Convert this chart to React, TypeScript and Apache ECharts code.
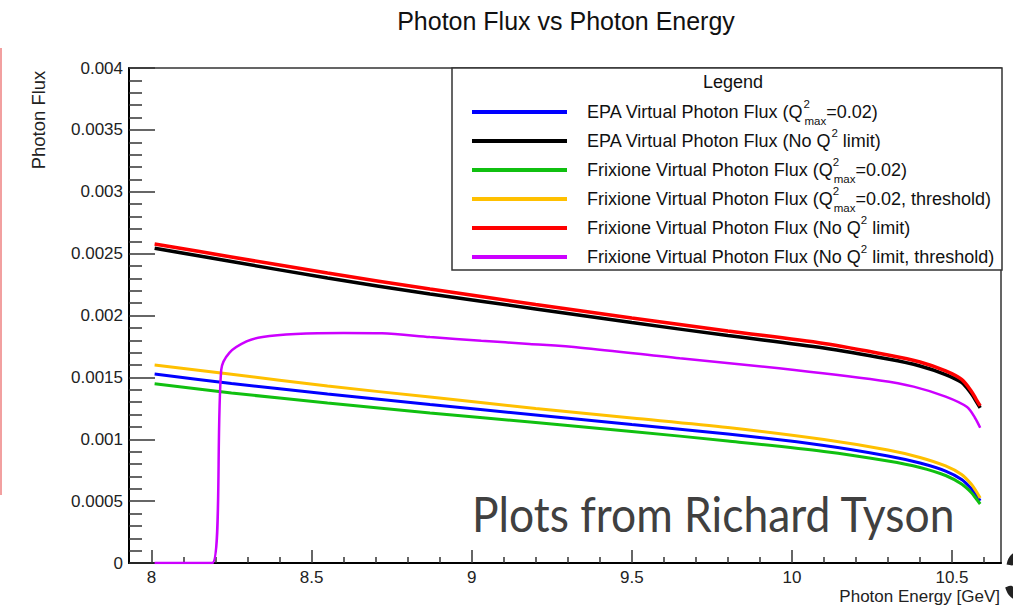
import React, { useEffect, useRef } from "react";
import * as echarts from "echarts";

const FONT = "'Liberation Sans', Arial, Helvetica, sans-serif";

// Photon energy samples (GeV)
const energies = [8.01, 8.25, 8.55, 8.87, 9.2, 9.5, 9.8, 10.1, 10.3, 10.4, 10.48, 10.53, 10.56, 10.575, 10.588];
const epaQ2max = [0.001527, 0.00145, 0.001366, 0.001281, 0.001196, 0.001119, 0.001042, 0.00095, 0.000865, 0.000808, 0.000743, 0.000675, 0.000602, 0.00055, 0.000503];
const epaNoLimit = [0.002543, 0.002436, 0.002303, 0.002174, 0.002053, 0.001943, 0.001838, 0.001737, 0.001648, 0.001592, 0.001523, 0.001459, 0.00137, 0.001309, 0.001253];
const frixQ2max = [0.001449, 0.001374, 0.001293, 0.001212, 0.001135, 0.001063, 0.000986, 0.000901, 0.000824, 0.000772, 0.000707, 0.000638, 0.00057, 0.000521, 0.000477];
const frixQ2maxThr = [0.0016, 0.001525, 0.00143, 0.001341, 0.001248, 0.001172, 0.001095, 0.000998, 0.000913, 0.000853, 0.000784, 0.000715, 0.000638, 0.000582, 0.000525];
const frixNoLimit = [0.002578, 0.002473, 0.002343, 0.002214, 0.002089, 0.00198, 0.001875, 0.001774, 0.001681, 0.001624, 0.001552, 0.001483, 0.00139, 0.001325, 0.001269];
// threshold curve has its own sampling
const thrEnergies = [8.01, 8.19, 8.218, 8.244, 8.297, 8.347, 8.45, 8.6, 8.72, 8.87, 9.03, 9.18, 9.34, 9.65, 9.96, 10.275, 10.38, 10.48, 10.547, 10.572, 10.588];
const frixNoLimitThr = [0, 0, 0.00156, 0.0017, 0.00179, 0.001826, 0.00185, 0.001858, 0.001856, 0.001826, 0.001796, 0.00177, 0.00174, 0.001654, 0.001573, 0.001475, 0.001425, 0.001344, 0.00126, 0.001172, 0.001093];

const xMajorTicks = [8, 8.5, 9, 9.5, 10, 10.5];
const xMinorTicks = [8.1, 8.2, 8.3, 8.4, 8.6, 8.7, 8.8, 8.9, 9.1, 9.2, 9.3, 9.4, 9.6, 9.7, 9.8, 9.9, 10.1, 10.2, 10.3, 10.4, 10.6];

const seriesNames = [
  "EPA Virtual Photon Flux (Q2max=0.02)",
  "EPA Virtual Photon Flux (No Q2 limit)",
  "Frixione Virtual Photon Flux (Q2max=0.02)",
  "Frixione Virtual Photon Flux (Q2max=0.02, threshold)",
  "Frixione Virtual Photon Flux (No Q2 limit)",
  "Frixione Virtual Photon Flux (No Q2 limit, threshold)",
];
const legendRich: Record<string, string> = {
  [seriesNames[0]]: "EPA Virtual Photon Flux (Q{supS|2}{sub|max}=0.02)",
  [seriesNames[1]]: "EPA Virtual Photon Flux (No Q{sup|2} limit)",
  [seriesNames[2]]: "Frixione Virtual Photon Flux (Q{supS|2}{sub|max}=0.02)",
  [seriesNames[3]]: "Frixione Virtual Photon Flux (Q{supS|2}{sub|max}=0.02, threshold)",
  [seriesNames[4]]: "Frixione Virtual Photon Flux (No Q{sup|2} limit)",
  [seriesNames[5]]: "Frixione Virtual Photon Flux (No Q{sup|2} limit, threshold)",
};
const seriesColors = ["#0000ff", "#000000", "#10c010", "#ffc000", "#ff0000", "#cc00ff"];
const seriesX = [energies, energies, energies, energies, energies, thrEnergies];
const seriesY = [epaQ2max, epaNoLimit, frixQ2max, frixQ2maxThr, frixNoLimit, frixNoLimitThr];
const seriesWidth = [3, 3.5, 3, 3, 3.5, 2.5];

export default function App() {
  const ref = useRef<HTMLDivElement>(null);
  useEffect(() => {
    if (!ref.current) return;
    const chart = echarts.init(ref.current, undefined, { renderer: "svg" });
    const tickColor = "#333";
    chart.setOption({
      animation: false,
      backgroundColor: "#fff",
      title: {
        text: "Photon Flux vs Photon Energy",
        left: 566,
        textAlign: "center",
        top: 8,
        padding: 0,
        textStyle: { fontFamily: FONT, fontSize: 25, fontWeight: "normal", color: "#111" },
      },
      grid: {
        left: 129, right: 12, top: 68, bottom: 42,
        show: true, borderColor: "#333", borderWidth: 1.5,
        outerBoundsMode: "none",
      },
      xAxis: [
        {
          type: "value", min: 7.93, max: 10.653, position: "bottom",
          splitLine: { show: false },
          axisLine: { show: true, onZero: false, lineStyle: { color: "#000", width: 2 } },
          axisTick: { show: true, inside: true, length: 13, customValues: xMajorTicks, lineStyle: { color: tickColor, width: 1.5 } },
          axisLabel: { customValues: xMajorTicks, fontFamily: FONT, fontSize: 17, color: "#222", margin: 6 },
        },
        {
          type: "value", min: 7.93, max: 10.653, position: "top", offset: -495,
          splitLine: { show: false },
          axisLine: { show: false },
          axisTick: { show: true, inside: false, length: 6, customValues: xMinorTicks, lineStyle: { color: tickColor, width: 1.5 } },
          axisLabel: { show: false },
        },
      ],
      yAxis: {
        type: "value", min: 0, max: 0.004, interval: 0.0005,
        splitLine: { show: false },
        axisLine: { show: true, onZero: false, lineStyle: { color: "#000", width: 2 } },
        axisTick: { show: true, inside: true, length: 26, lineStyle: { color: tickColor, width: 1.5 } },
        minorTick: { show: true, splitNumber: 5, length: 13, lineStyle: { color: tickColor, width: 1.5 } },
        axisLabel: { fontFamily: FONT, fontSize: 17, color: "#222", margin: 6 },
      },
      legend: {
        show: true,
        selectedMode: false,
        orient: "vertical",
        left: 472,
        top: 97.5,
        padding: 0,
        itemWidth: 95,
        itemHeight: 4,
        itemGap: 0,
        icon: "rect",
        z: 10,
        data: seriesNames,
        formatter: (name: string) => legendRich[name],
        textStyle: {
          fontFamily: FONT, fontSize: 18, color: "#111", lineHeight: 29, padding: [0, 0, 0, 15],
          rich: {
            sup: { fontFamily: FONT, fontSize: 11.5, color: "#111", verticalAlign: "top" },
            supS: { fontFamily: FONT, fontSize: 11.5, color: "#111", verticalAlign: "top", width: 1 },
            sub: { fontFamily: FONT, fontSize: 11.5, color: "#111", verticalAlign: "bottom" },
          },
        },
      },
      series: seriesNames.map((name, i) => ({
        name,
        type: "line",
        xAxisIndex: 0,
        showSymbol: false,
        symbol: "none",
        smooth: 0.3,
        color: seriesColors[i],
        lineStyle: { color: seriesColors[i], width: seriesWidth[i] },
        data: seriesX[i].map((e, j) => [e, seriesY[i][j]]),
      })),
      graphic: [
        { type: "rect", z: 3, shape: { x: 452, y: 68, width: 550, height: 202 }, style: { fill: "#fff", stroke: "#333", lineWidth: 1.5 } },
        { type: "text", z: 11, x: 733, y: 82, style: { text: "Legend", align: "center", verticalAlign: "middle", fontFamily: FONT, fontSize: 18, fill: "#111" } },
        { type: "text", x: 38, y: 120, rotation: Math.PI / 2, style: { text: "Photon Flux", align: "center", verticalAlign: "middle", fontFamily: FONT, fontSize: 18.5, fill: "#222" } },
        { type: "text", x: 1000, y: 596, style: { text: "Photon Energy [GeV]", align: "right", verticalAlign: "middle", fontFamily: FONT, fontSize: 17, fill: "#222" } },
        { type: "text", z: 12, x: 472, y: 513, scaleX: 0.925, style: { text: "Plots from Richard Tyson", align: "left", verticalAlign: "middle", fontFamily: "Lato, 'Open Sans', sans-serif", fontSize: 48, fill: "#404040" } },
        { type: "rect", shape: { x: 0, y: 48, width: 2, height: 447 }, style: { fill: "#f2a0a0" } },
        { type: "text", x: 1003, y: 574, style: { text: "3", align: "left", verticalAlign: "middle", fontFamily: "Lato, sans-serif", fontWeight: "bold", fontSize: 66, fill: "#222" } },
      ],
    });
    return () => chart.dispose();
  }, []);
  return <div ref={ref} style={{ position: "absolute", left: 0, top: 0, width: 1013, height: 605, background: "#fff" }} />;
}
